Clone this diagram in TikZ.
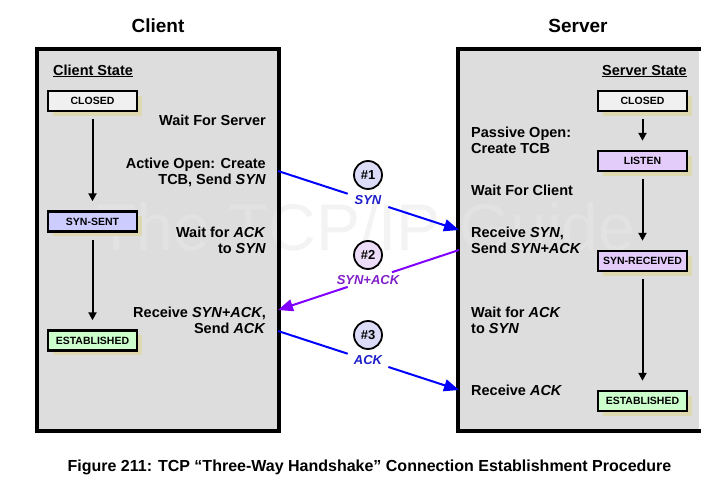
\documentclass[tikz,border=0pt]{standalone}
\usepackage{fontspec}
\setmainfont{Liberation Sans}
\usetikzlibrary{arrows.meta,shadows}
\definecolor{panelgray}{HTML}{DDDDDD}
\definecolor{wmarkin}{HTML}{E2E2E2}
\definecolor{wmarkout}{HTML}{F3F3F3}
\definecolor{shadowtan}{RGB}{222,216,176}
\definecolor{closedfill}{HTML}{F0F0F0}
\definecolor{sentfill}{HTML}{CCCCFF}
\definecolor{listenfill}{HTML}{E4CCFA}
\definecolor{estfill}{HTML}{CCFFCC}
\definecolor{msgblue}{HTML}{0000FF}
\definecolor{msgpurple}{HTML}{8000FF}
\definecolor{lblblue}{RGB}{30,30,200}
\definecolor{lblpurple}{RGB}{128,32,200}
\definecolor{circblue}{HTML}{DCDCF8}
\definecolor{circpurple}{HTML}{ECDCF8}
\tikzset{
  panel/.style={fill=panelgray},
  panelborder/.style={line width=3.5pt, line cap=rect},
  statebox/.style={draw=black, line width=2.4pt, minimum width=89pt, minimum height=20pt,
    inner sep=0pt, font=\fontsize{10.5}{12}\selectfont\bfseries,
    drop shadow={shadow xshift=4.5pt, shadow yshift=-4.5pt, fill=shadowtan, opacity=1}},
  stateflow/.style={line width=2pt, -{Triangle[length=8pt,width=8pt]}, shorten <=7pt, shorten >=9pt},
  desc/.style={inner sep=0pt, font=\fontsize{14.5}{17}\selectfont\bfseries},
  captext/.style={inner sep=0pt, font=\fontsize{16}{18}\selectfont\bfseries},
  title/.style={inner sep=0pt, font=\fontsize{19}{21}\selectfont\bfseries},
  stepcirc/.style={circle, draw=black, line width=1.8pt, minimum size=28pt, inner sep=0pt,
    font=\fontsize{13}{15}\selectfont\bfseries},
  msglabel/.style={inner sep=0pt, font=\fontsize{13}{15}\selectfont\bfseries\itshape},
  msgline/.style={line width=2pt},
  msgtip/.style={-{Triangle[length=15pt,width=12pt]}},
  wmstyle/.style={anchor=base west, inner sep=0pt, font=\fontsize{66}{70}\selectfont}
}
\begin{document}
\begin{tikzpicture}[x=1pt,y=-1pt]
\useasboundingbox (0,0) rectangle (718,479);
% panels
\fill[panel] (37,49) rectangle (279,431);
\fill[panel] (458,49) rectangle (699,431);
% watermark: lighter on the panels, a faint grey elsewhere
\begin{scope}
  \clip (0,0) rectangle (37,479) (279,0) rectangle (458,479) (699,0) rectangle (718,479);
  \node[wmstyle, text=wmarkout] (wmout) at (96,250) {The TCP/IP Guide};
\end{scope}
\begin{scope}
  \clip (37,49) rectangle (279,431) (458,49) rectangle (699,431);
  \node[wmstyle, text=wmarkin] (wmin) at (96,250) {The TCP/IP Guide};
\end{scope}
% panel borders
\draw[panelborder] (37,49) rectangle (279,431);
\draw[panelborder] (699,49) -- (458,49) -- (458,431) -- (699,431);
% titles
\node[title, anchor=base] (client) at (158,32) {Client};
\node[title, anchor=base] (server) at (578,32) {Server};
\node[desc, anchor=base west] (cstate) at (53,75) {\underline{Client State}};
\node[desc, anchor=base east] (sstate) at (687,75) {\underline{Server State}};
% client states
\node[statebox, fill=closedfill] (cclosed) at (92.5,101) {CLOSED};
\node[statebox, fill=sentfill] (csent) at (92.5,221.5) {SYN-SENT};
\node[statebox, fill=estfill] (cest) at (92.5,340.5) {ESTABLISHED};
\draw[stateflow] (cclosed.south) -- (csent.north);
\draw[stateflow] (csent.south) -- (cest.north);
% server states
\node[statebox, fill=closedfill] (sclosed) at (642.5,101) {CLOSED};
\node[statebox, fill=listenfill] (slisten) at (642.5,161) {LISTEN};
\node[statebox, fill=listenfill] (srcvd) at (642.5,261) {SYN-RECEIVED};
\node[statebox, fill=estfill] (sest) at (642.5,401) {ESTABLISHED};
\draw[stateflow] (sclosed.south) -- (slisten.north);
\draw[stateflow] (slisten.south) -- (srcvd.north);
\draw[stateflow] (srcvd.south) -- (sest.north);
% client descriptions
\node[desc, anchor=base east] (cw1) at (266,125) {Wait For Server};
\node[desc, anchor=base east] (ca1) at (266,168) {Active Open: Create};
\node[desc, anchor=base east] (ca2) at (266,184) {TCB, Send \textit{SYN}};
\node[desc, anchor=base east] (cw2) at (266,237) {Wait for \textit{ACK}};
\node[desc, anchor=base east] (cw3) at (266,253) {to \textit{SYN}};
\node[desc, anchor=base east] (cr1) at (266,317) {Receive \textit{SYN+ACK},};
\node[desc, anchor=base east] (cr2) at (266,333) {Send \textit{ACK}};
% server descriptions
\node[desc, anchor=base west] (sp1) at (471,137) {Passive Open:};
\node[desc, anchor=base west] (sp2) at (471,153) {Create TCB};
\node[desc, anchor=base west] (sw1) at (471,195) {Wait For Client};
\node[desc, anchor=base west] (sr1) at (471,237) {Receive \textit{SYN},};
\node[desc, anchor=base west] (sr2) at (471,253) {Send \textit{SYN+ACK}};
\node[desc, anchor=base west] (sw2) at (471,317) {Wait for \textit{ACK}};
\node[desc, anchor=base west] (sw3) at (471,333) {to \textit{SYN}};
\node[desc, anchor=base west] (sr3) at (471,395) {Receive \textit{ACK}};
% message end points
\coordinate (c1) at (278,171);
\coordinate (s1) at (459,230);
\coordinate (s2) at (459,250);
\coordinate (c2) at (278,310);
\coordinate (c3) at (278,331);
\coordinate (s3) at (459,390);
% message 1
\path (c1) -- coordinate[pos=0.385] (m1a) coordinate[pos=0.61] (m1b) (s1);
\draw[msgline, msgblue] (c1) -- (m1a);
\draw[msgline, msgblue, msgtip] (m1b) -- (s1);
\node[stepcirc, fill=circblue] (n1) at (368,175) {\#1};
\node[msglabel, text=lblblue] (l1) at (368,200) {SYN};
% message 2
\path (s2) -- coordinate[pos=0.37] (m2a) coordinate[pos=0.615] (m2b) (c2);
\draw[msgline, msgpurple] (s2) -- (m2a);
\draw[msgline, msgpurple, msgtip] (m2b) -- (c2);
\node[stepcirc, fill=circpurple] (n2) at (368,255) {\#2};
\node[msglabel, text=lblpurple] (l2) at (368,280) {SYN+ACK};
% message 3
\path (c3) -- coordinate[pos=0.385] (m3a) coordinate[pos=0.61] (m3b) (s3);
\draw[msgline, msgblue] (c3) -- (m3a);
\draw[msgline, msgblue, msgtip] (m3b) -- (s3);
\node[stepcirc, fill=circblue] (n3) at (368,335) {\#3};
\node[msglabel, text=lblblue] (l3) at (368,360) {ACK};
% caption
\node[captext, anchor=base] (cap) at (369.5,471) {Figure 211: TCP “Three-Way Handshake” Connection Establishment Procedure};
\end{tikzpicture}
\end{document}
